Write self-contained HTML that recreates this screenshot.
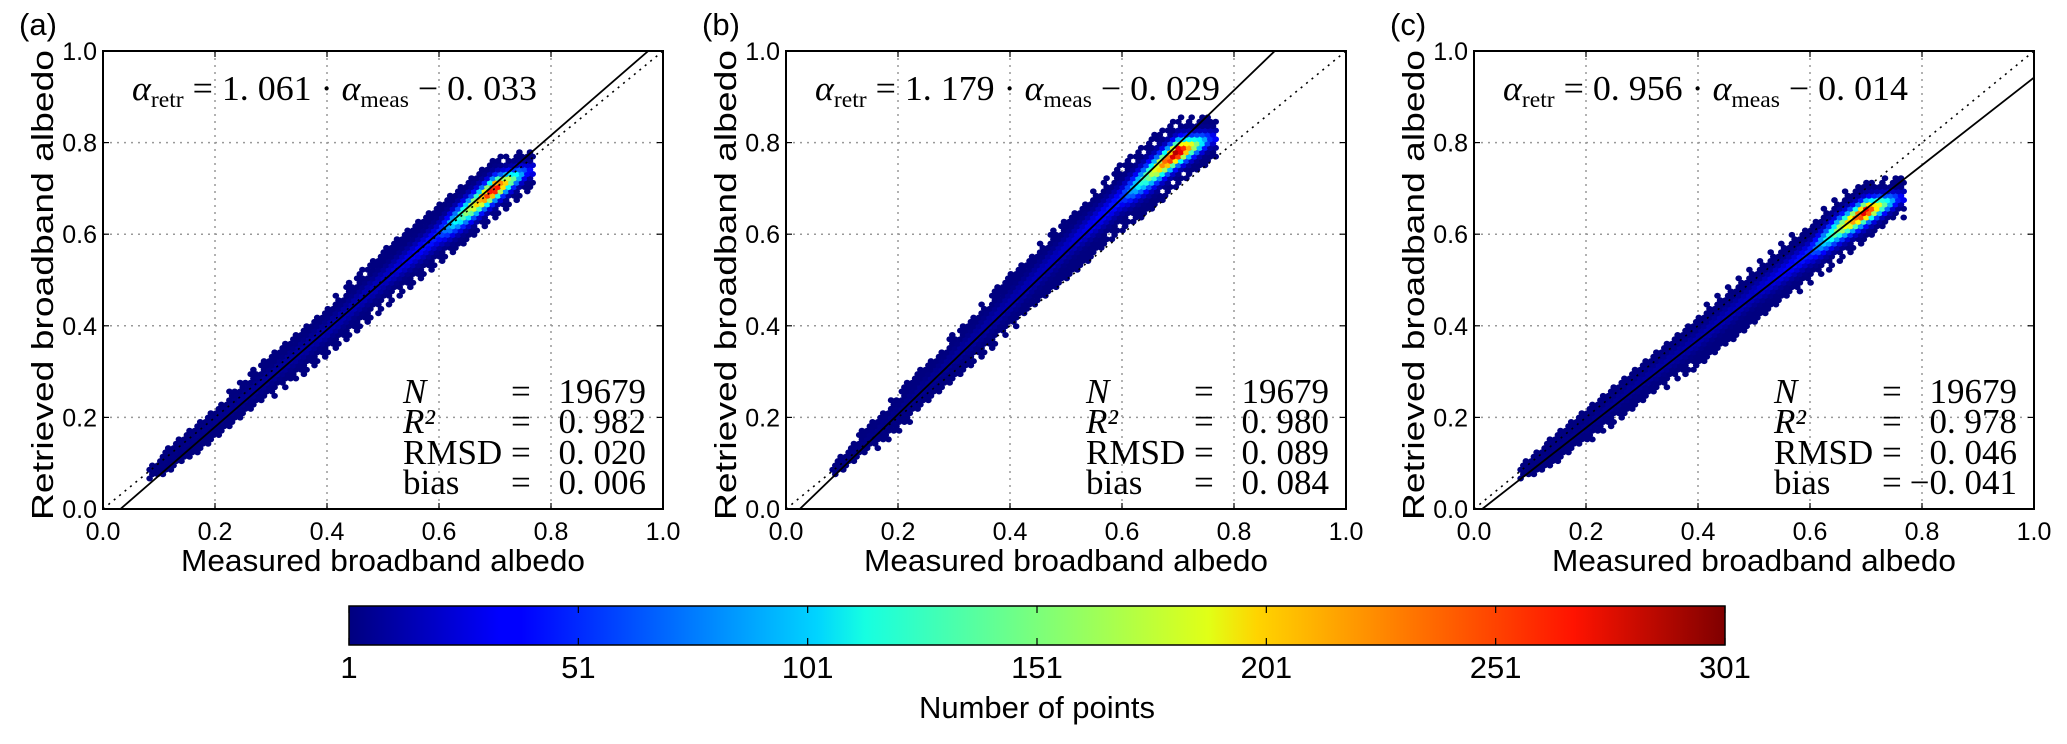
<!DOCTYPE html>
<html><head><meta charset="utf-8"><style>
html,body{margin:0;padding:0;background:#fff;}
svg{display:block;}
.tick{font-family:"Liberation Sans Narrow","Liberation Sans",sans-serif;font-size:25px;fill:#000;}
.ttl{font-family:"Liberation Sans","DejaVu Sans",sans-serif;font-size:31px;fill:#000;}
.ser{font-family:"Liberation Serif","DejaVu Serif",serif;font-size:35px;fill:#000;}
</style></head><body>
<svg id="fig" width="2067" height="744" viewBox="0 0 2067 744" xmlns="http://www.w3.org/2000/svg">
<defs>
<linearGradient id="jet" x1="0" x2="1" y1="0" y2="0">
<stop offset="0" stop-color="#00007f"/><stop offset="0.11" stop-color="#0000ff"/><stop offset="0.125" stop-color="#0000ff"/>
<stop offset="0.34" stop-color="#00d4ff"/><stop offset="0.375" stop-color="#16ffe1"/><stop offset="0.5" stop-color="#7bff7b"/>
<stop offset="0.625" stop-color="#e1ff16"/><stop offset="0.66" stop-color="#ffd400"/><stop offset="0.89" stop-color="#ff1300"/>
<stop offset="1" stop-color="#7f0000"/></linearGradient>
</defs>
</svg>
<script>
// ---- data ----
const panelLabels = ['(a)','(b)','(c)'];
const fitSlopes = [1.061, 1.179, 0.956];
const fitIntercepts = [-0.033, -0.029, -0.014];
const nValues = ['19679','19679','19679'];
const r2Values = ['0.982','0.980','0.978'];
const rmsdValues = ['0.020','0.089','0.046'];
const biasValues = ['0.006','0.084','\u22120.041'];
const profileX = [0.08, 0.10, 0.20, 0.30, 0.40, 0.50, 0.60, 0.65, 0.70, 0.76];
const centerA = [0.07, 0.09, 0.19, 0.29, 0.39, 0.50, 0.60, 0.65, 0.70, 0.74];
const centerB = [0.08, 0.10, 0.21, 0.33, 0.45, 0.57, 0.68, 0.73, 0.78, 0.81];
const centerC = [0.08, 0.09, 0.18, 0.28, 0.37, 0.47, 0.56, 0.61, 0.65, 0.68];
const spreadA = [0.015, 0.025, 0.04, 0.05, 0.06, 0.065, 0.07, 0.075, 0.07, 0.045];
const spreadB = [0.015, 0.025, 0.045, 0.055, 0.065, 0.07, 0.075, 0.08, 0.075, 0.05];
const spreadC = [0.015, 0.025, 0.04, 0.05, 0.06, 0.065, 0.07, 0.075, 0.07, 0.045];
const peakA = [1, 2, 5, 10, 15, 22, 50, 160, 280, 40];
const peakB = [1, 2, 5, 10, 15, 22, 50, 160, 300, 40];
const peakC = [1, 2, 5, 10, 15, 22, 50, 160, 280, 40];
const axisTicks = [0, 0.2, 0.4, 0.6, 0.8, 1.0];
const axisTickLabels = ['0.0','0.2','0.4','0.6','0.8','1.0'];
const cbTicks = [1, 51, 101, 151, 201, 251, 301];

const centers=[centerA,centerB,centerC], spreads=[spreadA,spreadB,spreadC], peaks=[peakA,peakB,peakC];
const panelsL=[103,786,1474], PW=560, TOP=51, BOT=509;
const NS='http://www.w3.org/2000/svg';
const svg=document.getElementById('fig');
function mk(tag,attrs,parent){const e=document.createElementNS(NS,tag);for(const k in attrs)e.setAttribute(k,attrs[k]);(parent||svg).appendChild(e);return e;}
function jet(t){t=Math.max(0,Math.min(1,t));
 const r=Math.min(4*t-1.5,-4*t+4.5),g=Math.min(4*t-0.5,-4*t+3.5),b=Math.min(4*t+0.5,-4*t+2.5);
 const c=v=>Math.round(255*Math.max(0,Math.min(1,v)));return `rgb(${c(r)},${c(g)},${c(b)})`;}
function interp(arr,x){if(x<=profileX[0])return arr[0];for(let i=1;i<profileX.length;i++){if(x<=profileX[i]){const f=(x-profileX[i-1])/(profileX[i]-profileX[i-1]);return arr[i-1]+f*(arr[i]-arr[i-1]);}}return arr[arr.length-1];}

for(let p=0;p<3;p++){
 const L=panelsL[p];
 const sx=v=>L+v*PW, sy=v=>BOT-v*(BOT-TOP);
 const g=mk('g',{});
 
 
 axisTicks.forEach((t,i)=>{
  if(i>0&&i<5){
   const gx=mk('line',{x1:sx(t),x2:sx(t),y1:TOP,y2:BOT,stroke:'#999','stroke-width':1.5,'stroke-dasharray':'2,5'},g);
   
   const gy=mk('line',{x1:L,x2:L+PW,y1:sy(t),y2:sy(t),stroke:'#999','stroke-width':1.5,'stroke-dasharray':'2,5'},g);
   
  }
  const xt=mk('text',{x:sx(t),y:BOT+31,'text-anchor':'middle',class:'tick'},g);xt.textContent=axisTickLabels[i];
  
  const yt=mk('text',{x:L-6,y:sy(t)+9,'text-anchor':'end',class:'tick'},g);yt.textContent=axisTickLabels[i];
  
  mk('line',{x1:sx(t),x2:sx(t),y1:BOT,y2:BOT-6,stroke:'#000','stroke-width':1.2},g);
  mk('line',{x1:sx(t),x2:sx(t),y1:TOP,y2:TOP+6,stroke:'#000','stroke-width':1.2},g);
  mk('line',{x1:L,x2:L+6,y1:sy(t),y2:sy(t),stroke:'#000','stroke-width':1.2},g);
  mk('line',{x1:L+PW,x2:L+PW-6,y1:sy(t),y2:sy(t),stroke:'#000','stroke-width':1.2},g);
 });
 const cells=mk('g',{},g);
 
 const dx=0.0095, dy=0.0095;
 let row=0;
 for(let y=0.0;y<=1.0;y+=dy,row++){
  let col=0;
  for(let x=(row%2?dx/2:0)+0.05;x<=0.80;x+=dx,col++){
   if(x<profileX[0]||x>profileX[profileX.length-1]+0.01)continue;
   const yc=interp(centers[p],x), hw=interp(spreads[p],x), pk=interp(peaks[p],x);
   const d=Math.abs(y-yc)/hw;
   if(d>1)continue;
   if(d>0.75 && ((row*7+col*13)%5)<2)continue; // ragged edge
   const cnt=Math.max(1,pk*Math.exp(-9*d*d));
   mk('ellipse',{cx:sx(x).toFixed(1),cy:sy(y).toFixed(1),rx:3.3,ry:3.0,fill:jet((cnt-1)/300)},cells);
  }
 }
 const l1=mk('line',{x1:sx(0),y1:sy(0),x2:sx(1),y2:sy(1),stroke:'#000','stroke-width':1.6,'stroke-dasharray':'2,5'},g);
 
 const a=fitSlopes[p], b=fitIntercepts[p];
 let x0=Math.max(0,-b/a), x1=Math.min(1,(1-b)/a);
 const fl=mk('line',{x1:sx(x0),y1:sy(a*x0+b),x2:sx(x1),y2:sy(a*x1+b),stroke:'#000','stroke-width':1.8},g);
 
 const fr=mk('rect',{x:L,y:TOP,width:PW,height:BOT-TOP,fill:'none',stroke:'#000','stroke-width':2},g);
 
 const pl=mk('text',{x:L-84,y:35,class:'ttl'},g);pl.textContent=panelLabels[p];
 
 const xl=mk('text',{x:L+PW/2,y:571,'text-anchor':'middle',class:'ttl',textLength:404,lengthAdjust:'spacingAndGlyphs'},g);
 xl.textContent='Measured broadband albedo';
 
 const yl=mk('text',{x:0,y:0,'text-anchor':'middle',class:'ttl',textLength:470,lengthAdjust:'spacingAndGlyphs',transform:`translate(${L-50},${(TOP+BOT)/2+5}) rotate(-90)`},g);
 yl.textContent='Retrieved broadband albedo';
 
 const eq=mk('text',{x:L+29,y:100,class:'ser',textLength:405,lengthAdjust:'spacingAndGlyphs'},g);
 
 const sgn=b<0?'\u2212':'+';
 eq.innerHTML=`<tspan font-style="italic">α</tspan><tspan font-size="23" dy="7">retr</tspan><tspan dy="-7"> = ${a.toFixed(3).replace('.','. ')} · </tspan><tspan font-style="italic">α</tspan><tspan font-size="23" dy="7">meas</tspan><tspan dy="-7"> ${sgn} ${Math.abs(b).toFixed(3).replace('.','. ')}</tspan>`;
 const st=mk('g',{},g);
 
 const labs=[['N',true],['R²',true],['RMSD',false],['bias',false]];
 const vals=[nValues[p],r2Values[p],rmsdValues[p],biasValues[p]];
 const bl=[403,433,464,494];
 labs.forEach((lb,i)=>{
  const t=mk('text',{x:L+300,y:bl[i],class:'ser','font-style':lb[1]?'italic':'normal'},st);t.textContent=lb[0];
  const e=mk('text',{x:L+408,y:bl[i],class:'ser'},st);e.textContent='=';
  const v=mk('text',{x:L+543,y:bl[i],class:'ser','text-anchor':'end'},st);v.textContent=vals[i].replace('.','. ');
 });
}
const CBL=349, CBR=1725, CBT=606, CBB=645;
const cb=mk('rect',{x:CBL,y:CBT,width:CBR-CBL,height:CBB-CBT,fill:'url(#jet)',stroke:'#000','stroke-width':1.5});

cbTicks.forEach(v=>{
 const x=CBL+(v-1)/300*(CBR-CBL);
 mk('line',{x1:x,x2:x,y1:CBB,y2:CBB-7,stroke:'#000','stroke-width':1.2});
 mk('line',{x1:x,x2:x,y1:CBT,y2:CBT+7,stroke:'#000','stroke-width':1.2});
 const t=mk('text',{x:x,y:678,'text-anchor':'middle',class:'ttl','font-size':'29px'});t.textContent=String(v);
 
});
const ct=mk('text',{x:(CBL+CBR)/2,y:718,'text-anchor':'middle',class:'ttl','font-size':'29px'});
ct.textContent='Number of points';

</script>
</body></html>
